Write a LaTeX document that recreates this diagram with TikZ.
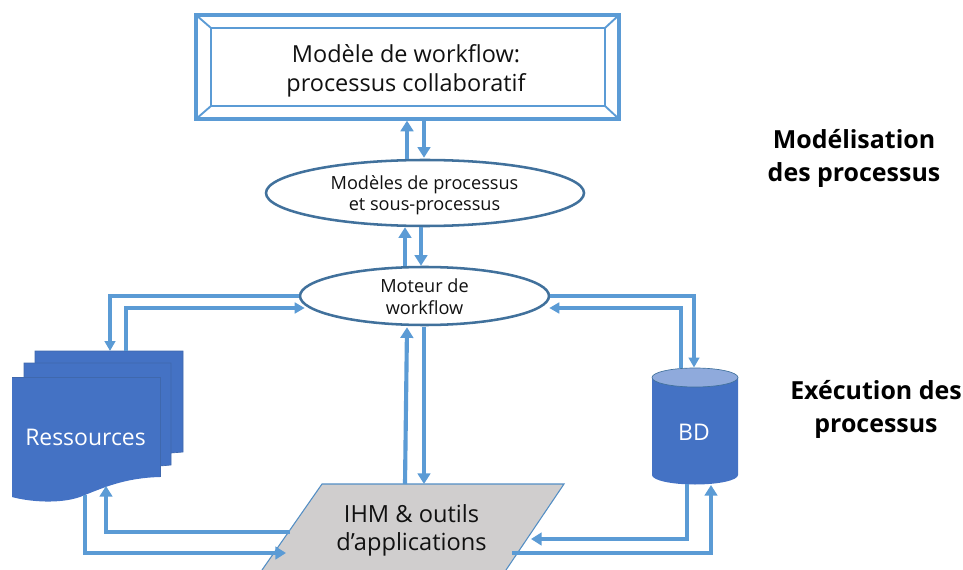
\documentclass[tikz,border=0pt]{standalone}
\usepackage{fontspec}
\setmainfont{Open Sans}
\usetikzlibrary{arrows.meta,calc,shapes.geometric}
\definecolor{linkblue}{HTML}{5B9BD5}
\definecolor{ellline}{HTML}{41719C}
\definecolor{docblue}{HTML}{4472C4}
\definecolor{docedge}{HTML}{3F68AD}
\definecolor{captop}{HTML}{8FAADC}
\definecolor{ihmgrey}{HTML}{D0CECE}
\definecolor{ink}{HTML}{111111}
\tikzset{
  x=0.75pt,y=-0.75pt,
  framed/.style={draw=linkblue,line width=2.4pt,fill=white,inner sep=0pt,minimum width=317.25pt,minimum height=78pt},
  procell/.style={ellipse,draw=ellline,line width=1.9pt,fill=white,inner sep=0pt,text=ink,align=center},
  thinlink/.style={draw=linkblue,line width=2.6pt,-{Triangle[length=7.5pt,width=8pt]}},
  thicklink/.style={draw=linkblue,line width=3.1pt,-{Triangle[length=8pt,width=9.5pt]}},
  sidetitle/.style={font=\bfseries\fontsize{18.7}{24.75}\selectfont,align=center,text=black,inner sep=0pt},
  docsheet/.style={fill=docblue,draw=docedge,line width=0.5pt},
}
\begin{document}
\begin{tikzpicture}
\useasboundingbox (0,0) rectangle (963,570);
% stacked documents
\path[docsheet] (35,351) -- (183,351) -- (183,452) -- (171,453) -- (150,455) -- (35,455) -- cycle;
\path[docsheet] (24,363) -- (171,363) -- (171,465) -- (160,466) -- (140,470) -- (24,470) -- cycle;
\path[fill=docblue] (12,377) -- (160,377) -- (160,477)
  .. controls (125,478) and (105,487) .. (80,497)
  .. controls (60,504) and (30,502) .. (12,497) -- cycle;
\draw[docedge,line width=0.5pt] (12,377) -- (160,377) -- (160,477);
\node[text=white,font=\fontsize{17.2}{20}\selectfont,inner sep=0pt,minimum width=111pt,minimum height=90pt] (res) at (85.5,437) {Ressources};
% database
\path[fill=docblue] (652,378) -- (652,475) arc[start angle=180,end angle=0,x radius=43,y radius=9.5] -- (738,378) -- cycle;
\path[fill=captop,draw=ellline,line width=0.5pt] (695,377.5) ellipse[x radius=43,y radius=9.5];
\node[text=white,font=\fontsize{17.2}{20}\selectfont,inner sep=0pt,minimum width=64.5pt,minimum height=78pt] (bd) at (694,432) {BD};
% IHM
\fill[ihmgrey] (322,484) -- (564,484) -- (506,570) -- (262,570) -- cycle;
\draw[linkblue!70!ellline,line width=0.8pt] (262,570) -- (322,484) -- (564,484) -- (506,570);
\node[text=ink,align=center,font=\fontsize{17.7}{21}\selectfont,inner sep=0pt] (ihm) at (411.5,530) {IHM \& outils\\d’applications};
% main boxes
\node[framed] (model) at (407.5,67) {};
\draw[linkblue,line width=2.2pt] (211,28) rectangle (605,106);
\draw[linkblue,line width=1.4pt] (196,15) -- (211,28) (619,15) -- (605,28) (196,119) -- (211,106) (619,119) -- (605,106);
\node[text=ink,align=center,font=\fontsize{17.6}{21.8}\selectfont,inner sep=0pt] (modeltxt) at (406,71) {Modèle de workflow:\\processus collaboratif};
\node[procell,minimum width=238.5pt,minimum height=49.5pt] (procs) at (425,193) {};
\node[text=ink,align=center,font=\fontsize{13.6}{15.8}\selectfont,inner sep=0pt] (procstxt) at (424.5,195) {Modèles de processus\\et sous-processus};
\node[procell,minimum width=186.75pt,minimum height=43.5pt] (engine) at (424.5,296) {};
\node[text=ink,align=center,font=\fontsize{13.6}{16.5}\selectfont,inner sep=0pt] (enginetxt) at (424.5,297) {Moteur de\\workflow};
% side titles
\node[sidetitle] (titleA) at (854,158) {Modélisation\\des processus};
\node[sidetitle] (titleB) at (876,409) {Exécution des\\processus};
% anchors on shapes drawn as paths
\coordinate (resTopIn) at (110,351);
\coordinate (resTopOut) at (126,351);
\coordinate (resLowIn) at (106,486);
\coordinate (resLowOut) at (85,495);
\coordinate (ihmTopOut) at (405,484);
\coordinate (ihmTopIn) at (424,484);
\coordinate (ihmLeftOut) at (290,532);
\coordinate (ihmLeftIn) at (286,553);
\coordinate (ihmRightIn) at (531,539);
\coordinate (ihmRightOut) at (512,553);
\coordinate (bdTopIn) at (694,367.5);
\coordinate (bdTopOut) at (681,368);
\coordinate (bdLowOut) at (687,484);
\coordinate (bdLowIn) at (711,485);
% vertical links
\draw[thicklink] ($(procs.north)+(-18,0)$) -- ($(model.south)+(-0.5,0)$ -| {$(procs.north)+(-18,0)$});
\draw[thicklink] ($(procs.north)+(-1,-40)$) -- ($(procs.north)+(-1,-1)$);
\draw[thicklink] ($(engine.north)+(-19.5,0)$) -- ($(procs.south)+(-20,0)$);
\draw[thicklink] ($(procs.south)+(-4,0)$) -- ($(engine.north)+(-3.5,0)$);
\draw[thicklink] (ihmTopOut) -- ($(engine.south)+(-17.5,1)$);
\draw[thicklink] ($(engine.south)+(-0.5,1)$) -- (ihmTopIn);
% side links, engine
\draw[thinlink] (engine.west) -| (resTopIn);
\draw[thinlink] (resTopOut) |- ($(engine.west)+(6,12)$);
\draw[thinlink] (engine.east) -| (bdTopIn);
\draw[thinlink] (bdTopOut) |- ($(engine.east)+(-1,12)$);
% lower links
\draw[thicklink] (ihmLeftOut) -| (resLowIn);
\draw[thicklink] (resLowOut) |- (ihmLeftIn);
\draw[thicklink] (bdLowOut) |- (ihmRightIn);
\draw[thicklink] (ihmRightOut) -| (bdLowIn);
\end{tikzpicture}
\end{document}
